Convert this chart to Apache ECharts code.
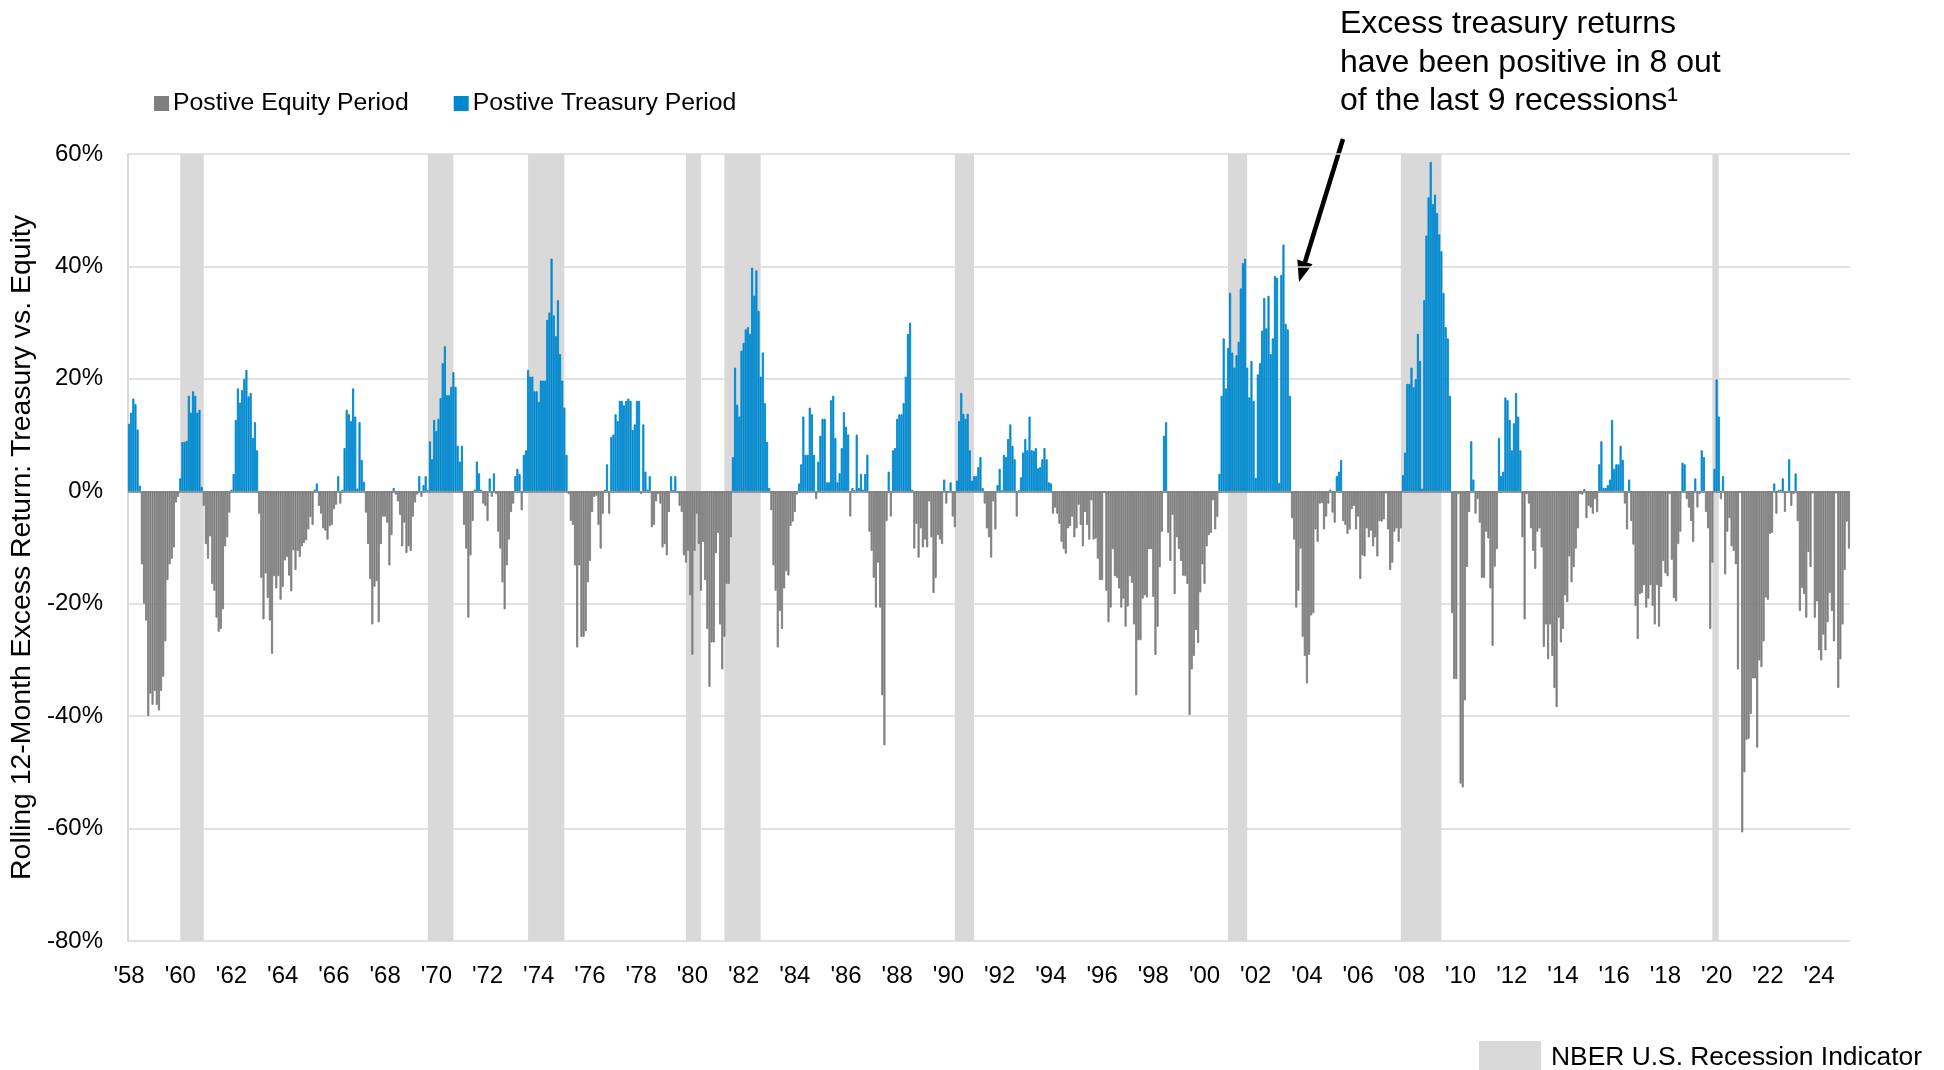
<!DOCTYPE html>
<html>
<head>
<meta charset="utf-8">
<title>Rolling 12-Month Excess Return: Treasury vs. Equity</title>
<script src="https://cdn.jsdelivr.net/npm/echarts@6/dist/echarts.min.js"></script>
<style>
  html, body { margin: 0; padding: 0; background: #fff; }
  #chart { width: 1944px; height: 1070px; }
</style>
</head>
<body>
<div id="chart"></div>
<script>
// rolling 12-month excess return, treasury minus equity (%), monthly from Mar 1958
var startYear = 1958;
var startMonth = 3;

var excess1950s = [
  12, 14, 16.5, 15.5, 11, 1, -13, -20, -23, -40,
  -36, -38, -35.5, -38, -39, -35.5, -33, -26.7, -15.8, -13, -12, -10
];
var excess1960s = [
  -2, -1, 2.3, 8.8, 8.8, 9, 17, 14, 17.8, 17, 14, 14.5,
  0.8, -2.6, -9.4, -12, -8, -16.5, -17.7, -22.5, -25, -24.5, -21, -9.8,
  -8.2, -3.8, 0.3, 3.1, 12.7, 18.3, 15.8, 18, 20, 21.6, 16.9, 17.5,
  9.5, 12.3, 7.3, -4, -15.4, -22.8, -14.6, -19, -23, -28.9, -15.1, -17.3,
  -15.1, -19.3, -17, -12.3, -11.7, -15, -17.8, -10.5, -14, -10.6, -11.7, -9.8,
  -9.2, -8.7, -6.8, -4.6, -6, 0.3, 1.4, -2.6, -4, -6.6, -7, -8.6,
  -6.2, -6, -3.2, -2.4, 2.7, -2.2, 0.3, 7.7, 14.5, 13.7, 12.5, 18.3,
  13.3, 0.5, 12.3, 5.6, 1.7, -3.8, -9.4, -15.6, -23.7, -17, -16, -23.3,
  -9.4, -4.5, -4.5, -5.6, -13.2, -7.8, 0.6, -0.6, -1.8, -4.2, -9.8, -5.6,
  -11, -9.8, -10.6, -4.5, -2, -0.6, 2.7, -1, 1.1, 2.7, 0.2, 8.9
];
var excess1970s = [
  5.7, 12.7, 10.7, 12.9, 16.6, 22.8, 25.8, 17.1, 17.1, 18.6, 21.2, 18.6,
  8.1, 5.3, 8.1, -6, -10.2, -22.5, -11.4, -5.3, 0.3, 5.3, 3.2, 0.3,
  -2.2, -2.6, -5.3, 2.3, -1, 3.2, -0.5, -7.2, -10.2, -16.2, -21, -13.2,
  -8.6, -3.7, -2.2, 2.7, 4, 3.1, -3.4, 6.5, 7.3, 21.6, 20.4, 20.4,
  17.8, 17.8, 15.9, 19.7, 19.7, 19.7, 30.5, 31.8, 41.4, 31.3, 27.6, 34,
  24.4, 19.7, 14.9, 6.5, -0.5, -5.3, -6, -13.2, -27.8, -13.2, -25.9, -25.9,
  -24.9, -16.2, -12.4, -3.7, -1, -0.8, -6, -10.2, -4, 0.3, 4.8, -4,
  9.7, 10.1, 13.7, 12.5, 16.1, 16.1, 15.3, 16.1, 16.5, 16.1, 10.9, 11.9,
  16.1, 16.1, -0.5, 11.9, 3.5, 0.3, 2.7, -6.4, -6, -1.8, -0.5, -2.2,
  -10, -9.4, -11.4, -3.7, 2.7, 0.2, 2.7, -0.3, -2.6, -3.7, -11.4, -12.7
];
var excess1980s = [
  -10.6, -18.5, -29.1, -10.6, -4, -9.4, -17.7, -9, -15.8, -24.5, -34.8, -26.9,
  -26.9, -11, -7.4, -23.7, -31.7, -25.9, -16.5, -16.5, -8.2, 6.1, 22, 15.4,
  13.3, 25, 26.4, 28.8, 29.2, 28, 39.8, 34.8, 39.3, 32.1, 20.4, 24.7,
  15.7, 8.8, 0.6, -3.4, -13.2, -17.7, -27.8, -21.3, -24.5, -17.3, -14.2, -15,
  -6.2, -5.4, -3.7, -0.6, 1.4, 4.8, 13.3, 6.5, 6.5, 14.9, 13.7, 6.5,
  -1.4, 5.3, 9.9, 12.9, 12.9, 1.6, 1.6, 16.2, 17, 9.5, 1.6, 3.2,
  7.7, 14.1, 11.5, 10.1, -4.5, 0.6, 0.2, 10.1, 0.6, 3.1, 0.3, 3.1,
  6.5, -7.2, -10.6, -15.4, -20.7, -12.7, -20.7, -36.3, -45.2, -5.3, 3.5, -4.5,
  7.3, 7.7, 12.9, 13.7, 13.7, 15.7, 20.4, 28, 30, 0.3, -10.2, -5.8,
  -11.8, -6.6, -10, -8.6, -10, -1.8, -8.2, -18.1, -15.4, -7.8, -8.6, -9.4
];
var excess1990s = [
  2.1, -2.2, -0.3, 1.6, -4.5, -6.4, 1.9, 12.5, 17.5, 13.8, 12.9, 13.8,
  7.3, 1.9, 2.7, 2.7, 4.3, 6.1, 0.6, -2.2, -6.6, -8.2, -11.8, -1.8,
  -6.8, 1.1, 4, 0.2, 6.5, 6.1, 9.3, 11.9, 8.1, 5.7, -4.5, 0.2,
  2.5, 6.9, 9.3, 7.3, 13.3, 7.3, 7.2, 7.7, 4.1, 4.3, 5.7, 7.7,
  5.7, 1.6, 1.4, -4, -2.9, -4, -5.8, -9, -10.3, -11.1, -6.6, -6.2,
  -4.5, -8.2, -6.6, -2.4, -6, -9.8, -3.7, -6, -8.6, -1.6, -8.6, -8.4,
  -12, -15.8, -15.8, -0.3, -17.7, -23.3, -20.7, -10.3, -15.1, -15.4, -17.3, -20.7,
  -19.1, -24.1, -20.5, -15.1, -16.3, -23.7, -36.3, -26.5, -26.5, -19.1, -18.5, -18.9,
  -10.3, -10.3, -18.8, -29.1, -24.1, -13.5, -7.2, 9.9, 12.3, -7.4, -12.4, -4.2,
  -18.3, -8.2, -10.3, -12.4, -15, -15.1, -16.5, -39.8, -31.7, -29.3, -24.7, -27
];
var excess2000s = [
  -18, -13, -16.5, -9.8, -7.8, -7.4, -1.6, -6.8, -4.6, 3.1, 17, 27.2,
  18.3, 25.5, 35.3, 24.7, 22, 24.2, 26.6, 36.1, 40.6, 41.4, 22, 16.7,
  23.2, 16.1, 2.4, 20.8, 22.8, 28.6, 34.4, 29, 34.8, 24.4, 27.2, 38.3,
  38, 1.5, 38.5, 43.9, 29.8, 28.8, 17, -4.8, -8.6, -20.7, -17.7, -10.2,
  -25.9, -29.3, -34.2, -29.1, -22.1, -21.7, -6.8, -9, -2.2, -2.1, -6.8, -4.5,
  -2.2, 0.3, -3.8, -5.6, 2.7, 3.5, 5.6, -5.3, -6, -7.6, -6.8, -3.2,
  -2.6, -6.8, -4.5, -15.6, -11.4, -11.6, -6.6, -8.2, -7, -9.8, -8.2, -11.6,
  -5.3, -5.4, -5, -0.4, -6.8, -14, -12.7, -7.2, -6.6, -9, -6.6, 2.9,
  6.9, 19.1, 19.1, 22, 18.5, 20, 28, 23.2, 0.5, 34, 45.5, 52.3,
  58.6, 51.1, 52.8, 49.5, 45.7, 42.7, 35.3, 29.2, 27.2, 17, -21.7, -33.4
];
var excess2010s = [
  -33.4, -0.5, -52, -52.7, -37.2, -13.5, -3.7, 8.9, 2.1, -4, -1.4, -5.6,
  -15.4, -15.4, -7.2, -8.4, -17.3, -27.5, -13.4, -10.3, 9.5, 2.7, 3.5, 16.7,
  16.2, 12.7, 7.3, 12.1, 17.5, 13.3, 7.3, -8.2, -22.8, -0.5, -2.2, -6.6,
  -10.6, -13.8, -7.2, -6.6, -10, -27.7, -23.7, -29.9, -23.7, -29.3, -35, -38.4,
  -22.5, -26.9, -24.5, -18.5, -19.7, -11.6, -16.2, -13.5, -10.2, -6.6, -0.5, -0.6,
  0.4, -4.8, -2.6, -2.9, -4, -1.4, -3.7, 4.8, 8.9, 0.6, 0.6, 1.1,
  2.1, 12.7, 4, 4.8, 4.8, 8.1, 5.6, -2.2, -6.8, 2.1, -5.3, -9.5,
  -20.4, -26.3, -18.3, -18.1, -16.7, -20.7, -19.1, -16.7, -20.4, -23.7, -16.7, -24.1,
  -17, -12.4, -14.6, -15.1, -0.5, -12.2, -19, -19.6, -9.4, -7.2, 5.1, 4.8,
  -1.4, -2.9, -5.3, -9, 2.3, -2.9, -0.5, 7.3, 6.1, -3.7, -6.6, -24.5
];
var excess2020s = [
  -12.7, 4, 19.9, 13.3, -1.4, 2.7, -14.8, -7.2, -4.8, -9.8, -10.6, -13,
  -31.7, -0.3, -60.7, -50, -44.2, -44, -39.6, -33.3, -33.3, -45.6, -30.1, -31.3,
  -26.7, -18.9, -19.3, -7.6, -7.4, 1.4, -4, 0.2, 0.3, 2.3, -3.7, -0.3,
  5.7, -2.6, -0.5, 3.2, -5.3, -21.3, -17.2, -18.3, -22.5, -10.8, -13.5, -0.4,
  -22.5, -19.6, -28.3, -30.1, -25.5, -28.3, -23.3, -18.1, -21.3, -26.7, -0.4, -35,
  -29.9, -23.7, -14, -5.4, -10.2
];

// NBER recessions, peak to trough
var recessions = [
  ['1960-04', '1961-02'],
  ['1969-12', '1970-11'],
  ['1973-11', '1975-03'],
  ['1980-01', '1980-07'],
  ['1981-07', '1982-11'],
  ['1990-07', '1991-03'],
  ['2001-03', '2001-11'],
  ['2007-12', '2009-06'],
  ['2020-02', '2020-04']
];

var yTicks = [-80, 60, 20];

var excess = [].concat(excess1950s, excess1960s, excess1970s, excess1980s,
  excess1990s, excess2000s, excess2010s, excess2020s);

var months = [];
for (var i = 0; i < excess.length; i++) {
  var t = startYear * 12 + startMonth - 1 + i;
  var yy = Math.floor(t / 12), mm = t % 12 + 1;
  months.push(yy + '-' + (mm < 10 ? '0' + mm : mm));
}

var equityData = excess.map(function (v) { return v < 0 ? v : '-'; });
var treasuryData = excess.map(function (v) { return v >= 0 ? v : '-'; });

// shade from the month before the peak so the band covers the whole span
var recessionAreas = recessions.map(function (r) {
  var s = Math.max(months.indexOf(r[0]) - 1, 0);
  return [{ xAxis: months[s] }, { xAxis: r[1] }];
});

var font = '"Liberation Sans", Arial, sans-serif';
var chart = echarts.init(document.getElementById('chart'));

chart.setOption({
  animation: false,
  backgroundColor: '#fff',
  textStyle: { fontFamily: font, color: '#000' },
  grid: { left: 128, right: 94, top: 154, bottom: 129, containLabel: false },
  legend: [
    {
      data: ['Postive Equity Period', 'Postive Treasury Period'],
      left: 154,
      top: 91,
      padding: 0,
      icon: 'rect',
      itemWidth: 13,
      itemHeight: 13,
      itemGap: 45,
      selectedMode: false,
      textStyle: { fontSize: 24.8, color: '#000', fontFamily: font }
    },
    {
      data: ['NBER U.S. Recession Indicator'],
      left: 1479,
      top: 1041,
      padding: 0,
      icon: 'rect',
      itemWidth: 62,
      itemHeight: 34,
      selectedMode: false,
      textStyle: { fontSize: 26.4, color: '#000', fontFamily: font, padding: [0, 0, 0, 5] }
    }
  ],
  xAxis: {
    type: 'category',
    data: months,
    axisLine: { show: false, onZero: false },
    axisTick: { show: false },
    splitLine: { show: false },
    axisLabel: {
      interval: 23,
      margin: 23,
      fontSize: 24,
      color: '#000',
      fontFamily: font,
      formatter: function (v) { return '\'' + v.slice(2, 4); }
    }
  },
  yAxis: {
    type: 'value',
    min: yTicks[0],
    max: yTicks[1],
    interval: yTicks[2],
    name: 'Rolling 12-Month Excess Return: Treasury vs. Equity',
    nameLocation: 'middle',
    nameRotate: 90,
    nameGap: 84,
    nameTextStyle: { fontSize: 28.4, color: '#000', fontFamily: font },
    axisLine: { show: true, lineStyle: { color: '#d9d9d9', width: 2 } },
    axisTick: { show: false },
    splitLine: { lineStyle: { color: '#d9d9d9', width: 1.5 } },
    axisLabel: {
      formatter: '{value}%',
      margin: 25,
      fontSize: 24,
      color: '#000',
      fontFamily: font
    }
  },
  series: [
    {
      name: 'NBER U.S. Recession Indicator',
      type: 'line',
      data: [],
      z: 1,
      silent: true,
      itemStyle: { color: '#d9d9d9' },
      lineStyle: { color: '#d9d9d9' },
      markArea: {
        silent: true,
        itemStyle: { color: '#d9d9d9' },
        data: recessionAreas
      }
    },
    {
      name: 'Postive Equity Period',
      type: 'bar',
      data: equityData,
      z: 3,
      barGap: '-100%',
      barCategoryGap: '0%',
      itemStyle: { color: '#7f7f7f', borderColor: '#7f7f7f', borderWidth: 0.9 },
      markLine: {
        silent: true,
        symbol: ['none', 'none'],
        label: { show: false },
        lineStyle: { color: '#7f7f7f', width: 1.5, type: 'solid' },
        data: [{ yAxis: 0 }]
      }
    },
    {
      name: 'Postive Treasury Period',
      type: 'bar',
      data: treasuryData,
      z: 3,
      barGap: '-100%',
      barCategoryGap: '0%',
      itemStyle: { color: '#0089cf', borderColor: '#0089cf', borderWidth: 0.9 }
    }
  ],
  graphic: [
    {
      type: 'text',
      left: 1340,
      top: 5,
      style: {
        text: 'Excess treasury returns\nhave been positive in 8 out\nof the last 9 recessions\u00b9',
        font: '32px ' + font,
        lineHeight: 38.5,
        fill: '#000'
      }
    },
    {
      type: 'line',
      shape: { x1: 1343, y1: 139, x2: 1305, y2: 262 },
      style: { stroke: '#000', lineWidth: 4.5 }
    },
    {
      type: 'polygon',
      shape: { points: [[1299, 282], [1312.5, 264.3], [1297.3, 259.5]] },
      style: { fill: '#000' }
    }
  ]
});
</script>
</body>
</html>
